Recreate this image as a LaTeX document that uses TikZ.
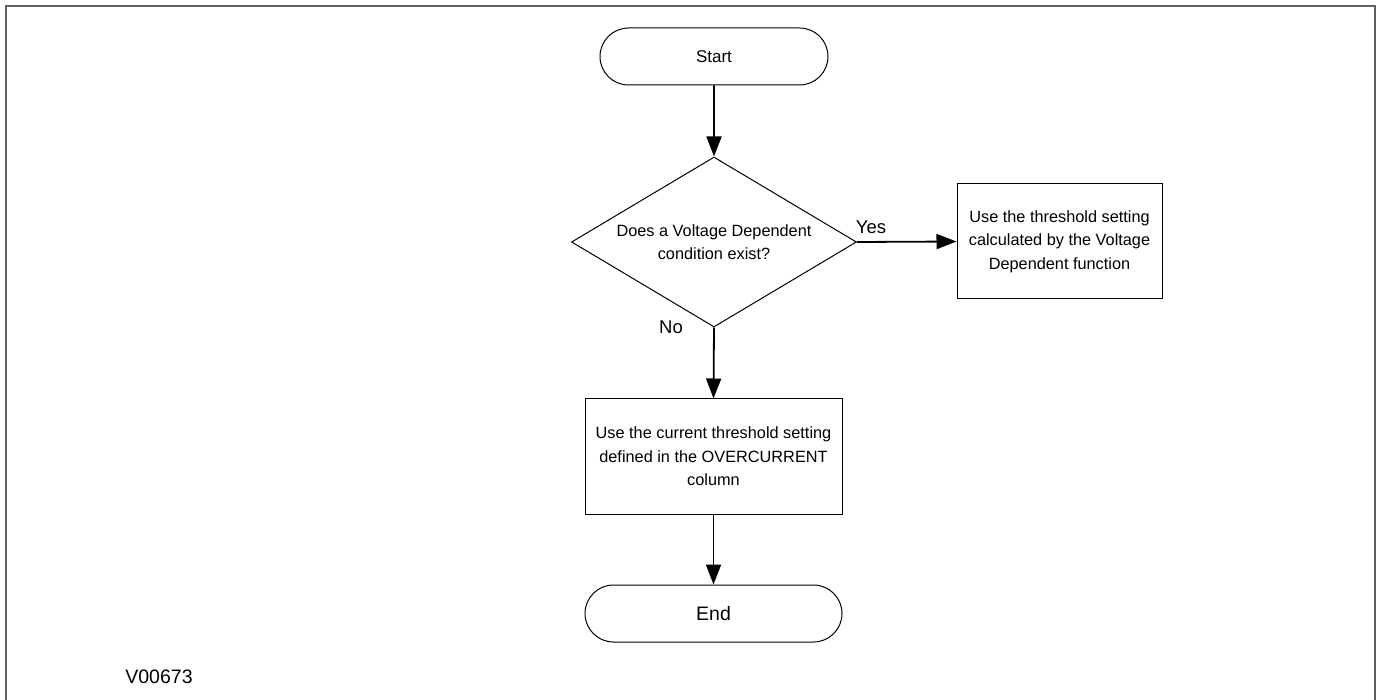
\documentclass[tikz,border=0pt]{standalone}
\usepackage{fontspec}
\setmainfont{Liberation Sans}
\usetikzlibrary{shapes.misc,shapes.geometric,arrows.meta}
\definecolor{framegray}{RGB}{95,95,95}
\tikzset{
  base/.style={draw=black, line width=1pt, align=center, inner sep=0pt,
    font=\fontsize{16.3}{23.5}\selectfont},
  term/.style={base, rounded rectangle, minimum width=228pt, minimum height=57pt},
  proc/.style={base, rectangle, minimum height=115pt},
  decis/.style={base, diamond, minimum width=285pt, minimum height=170pt, aspect=1.676},
  flow/.style={line width=1.8pt, -{Triangle[length=20pt,width=15pt]}},
  lbl/.style={font=\fontsize{18.5}{22}\selectfont, inner sep=0pt}
}
\begin{document}
\begin{tikzpicture}[x=1pt,y=-1pt]
\useasboundingbox (0,0) rectangle (1379,700);
\draw[framegray, line width=2.5pt] (6,700) -- (6,6) -- (1375,6) -- (1375,700);
\node[term, font=\fontsize{17}{20}\selectfont] (start) at (714,56.5) {Start};
\node[decis] (dec) at (714,242) {Does a Voltage Dependent\\condition exist?};
\node[proc, minimum width=205pt] (yesbox) at (1059.5,241.5) {Use the threshold setting\\calculated by the Voltage\\Dependent function};
\node[proc, minimum width=257pt] (nobox) at (713.5,456.5) {Use the current threshold setting\\defined in the OVERCURRENT\\column};
\node[term, minimum width=257pt, font=\fontsize{19.5}{22}\selectfont] (end) at (713.5,613.5) {End};
\node[lbl] (yes) at (871,227) {Yes};
\node[lbl] (no) at (671,327) {No};
\node[font=\fontsize{19.5}{22}\selectfont, inner sep=0pt] (code) at (159,677) {V00673};
\draw[flow] (start) -- (dec);
\draw[flow] (dec.east) -- (yesbox.west);
\draw[flow] (dec.south) -- (nobox.north);
\draw[flow] (nobox) -- (end);
\end{tikzpicture}
\end{document}
